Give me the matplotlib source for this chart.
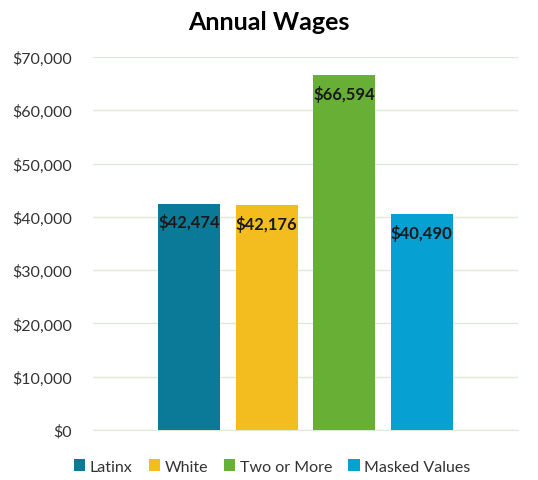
import matplotlib.pyplot as plt
from matplotlib.ticker import FuncFormatter

groups = ["Latinx", "White", "Two or More", "Masked Values"]
wages = [42474, 42176, 66594, 40490]
colors = ["#0B7A99", "#F3BC1F", "#67AF35", "#06A0D3"]

plt.rcParams['font.family'] = ['Lato', 'DejaVu Sans']

fig = plt.figure(figsize=(5.38, 4.81), dpi=100)
ax = fig.add_axes([0.1729, 0.104, 0.79, 0.7754])

xs = range(len(groups))
bars = ax.bar(xs, wages, width=0.8, color=colors, label=groups, zorder=3)

for b, v in zip(bars, wages):
    ax.annotate("${:,}".format(v), (b.get_x() + b.get_width() / 2, v),
                xytext=(0, -13), textcoords="offset points",
                ha="center", va="center", fontsize=12, fontweight="bold",
                color="#1a1a1a", zorder=4)

ax.set_xlim(-1.24, 4.24)
ax.set_ylim(0, 70000)
ax.set_yticks(range(0, 70001, 10000))
ax.yaxis.set_major_formatter(FuncFormatter(lambda v, p: "${:,.0f}".format(v)))
ax.set_xticks([])
ax.grid(axis="y", color="#DDEBD6", linewidth=1, zorder=0)
for s in ["top", "right", "left"]:
    ax.spines[s].set_visible(False)
ax.spines["bottom"].set_color("#DDEBD6")
ax.tick_params(axis="y", length=0, pad=15, labelsize=11.5, labelcolor="#333333")

fig.suptitle("Annual Wages", x=0.5, y=0.978, fontsize=18, fontweight="bold")

fig.legend(handles=bars, labels=groups, loc="center", bbox_to_anchor=(0.506, 0.028),
           ncol=4, frameon=False, fontsize=11.5, handlelength=0.7, handleheight=0.7,
           handletextpad=0.3, columnspacing=1.0, labelcolor="#333333")

fig.savefig("out.png", dpi=100)
